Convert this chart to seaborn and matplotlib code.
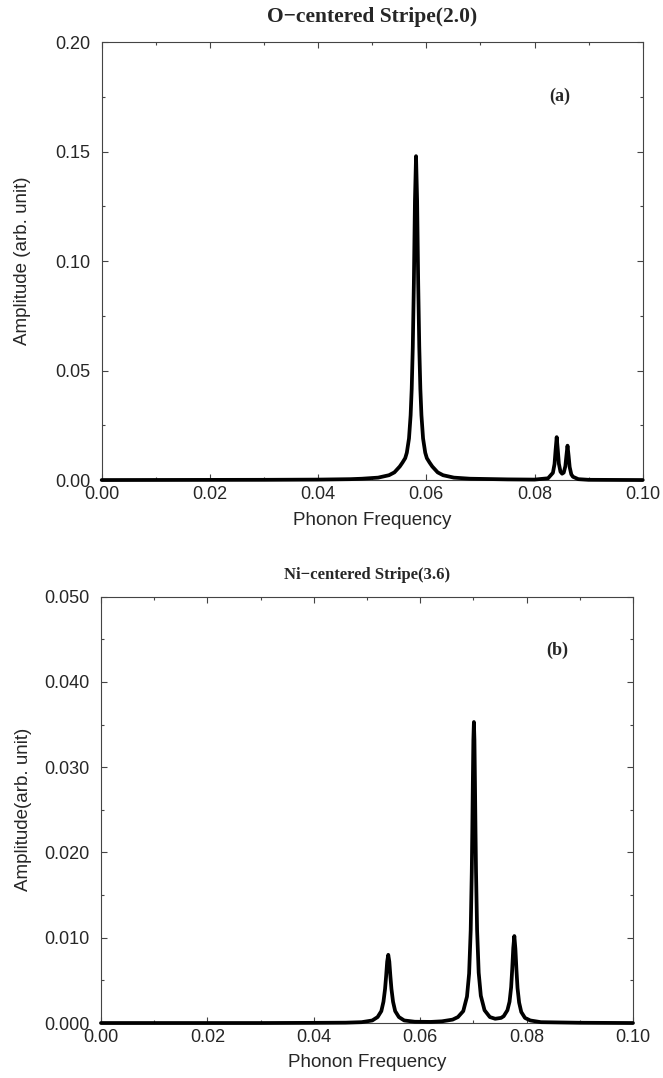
import numpy as np
import pandas as pd
import matplotlib
matplotlib.use("Agg")
import matplotlib.pyplot as plt
from matplotlib.ticker import MultipleLocator, FormatStrFormatter
import seaborn as sns

# Panel (a): O-centered stripe
freq_a = [0.0000, 0.0300, 0.0400, 0.0460, 0.0481, 0.0511, 0.0531, 0.0541, 0.0551,
          0.0556, 0.0561, 0.0564, 0.0568, 0.0571, 0.0573, 0.0575, 0.0577, 0.0579,
          0.0581, 0.0583, 0.0585, 0.0587, 0.0589, 0.0591, 0.0594, 0.0598, 0.0601,
          0.0606, 0.0611, 0.0621, 0.0631, 0.0651, 0.0681, 0.0750, 0.0800, 0.0825,
          0.0834, 0.0837, 0.0839, 0.0841, 0.0843, 0.0845, 0.0848, 0.0851, 0.0854,
          0.0857, 0.0859, 0.0861, 0.0863, 0.0865, 0.0868, 0.0871, 0.0881, 0.0900,
          0.1000]
amp_a = [0.0000, 0.0001, 0.0002, 0.0004, 0.0006, 0.0011, 0.0022, 0.0035, 0.0062,
         0.0080, 0.0100, 0.0125, 0.0190, 0.0296, 0.0416, 0.0607, 0.0900, 0.1276,
         0.1480, 0.1276, 0.0900, 0.0607, 0.0416, 0.0296, 0.0190, 0.0125, 0.0100,
         0.0080, 0.0062, 0.0035, 0.0022, 0.0011, 0.0006, 0.0003, 0.0002, 0.0008,
         0.0033, 0.0073, 0.0138, 0.0196, 0.0139, 0.0075, 0.0038, 0.0029, 0.0034,
         0.0063, 0.0112, 0.0157, 0.0111, 0.0059, 0.0026, 0.0015, 0.0004, 0.0001,
         0.0000]

# Panel (b): Ni-centered stripe
freq_b = [0.0000, 0.0300, 0.0400, 0.0460, 0.0490, 0.0510, 0.0520, 0.0527, 0.0531,
          0.0534, 0.0536, 0.0538, 0.0540, 0.0542, 0.0544, 0.0546, 0.0549, 0.0553,
          0.0560, 0.0570, 0.0590, 0.0620, 0.0641, 0.0661, 0.0671, 0.0681, 0.0688,
          0.0692, 0.0695, 0.0697, 0.0698, 0.0699, 0.0700, 0.0701, 0.0702, 0.0703,
          0.0704, 0.0705, 0.0707, 0.0710, 0.0714, 0.0721, 0.0731, 0.0741, 0.0752,
          0.0757, 0.0764, 0.0768, 0.0771, 0.0773, 0.0775, 0.0777, 0.0779, 0.0781,
          0.0783, 0.0786, 0.0790, 0.0797, 0.0807, 0.0827, 0.0900, 0.1000]
amp_b = [0.0000, 0.0000, 0.00002, 0.00004, 0.0001, 0.0003, 0.0007, 0.0014, 0.0025,
         0.0040, 0.0055, 0.0072, 0.0080, 0.0072, 0.0055, 0.0040, 0.0025, 0.0014,
         0.0007, 0.0003, 0.00015, 0.00013, 0.0002, 0.0004, 0.0007, 0.0014, 0.0031,
         0.0058, 0.0109, 0.0177, 0.0226, 0.0282, 0.0332, 0.0353, 0.0332, 0.0282,
         0.0226, 0.0177, 0.0109, 0.0059, 0.0032, 0.0015, 0.0007, 0.0005, 0.0006,
         0.0008, 0.0015, 0.0025, 0.0042, 0.0063, 0.0088, 0.0102, 0.0087, 0.0062,
         0.0041, 0.0024, 0.0013, 0.0006, 0.0003, 0.0001, 0.00003, 0.0000]

titles = ["O\u2212centered Stripe(2.0)", "Ni\u2212centered Stripe(3.6)"]
ylabels = ["Amplitude (arb. unit)", "Amplitude(arb. unit)"]
tags = ["(a)", "(b)"]

sns.set_style("ticks")
plt.rcParams['font.family'] = ['Liberation Sans', 'DejaVu Sans']

fig = plt.figure(figsize=(6.63, 10.78), dpi=100)
ax_a = fig.add_axes([0.1534, 0.5547, 0.816, 0.406])
ax_b = fig.add_axes([0.1523, 0.0510, 0.8024, 0.3955])

panels = [
    (ax_a, freq_a, amp_a, 0.20, 0.05, "%.2f", 15.5, 15, (0.0847, 0.1752)),
    (ax_b, freq_b, amp_b, 0.050, 0.01, "%.3f", 12, 12.7, (0.0857, 0.04375)),
]

for i, (ax, fx, fy, ymax, ystep, fmt, tsize, tpad, tagpos) in enumerate(panels):
    df = pd.DataFrame({"freq": fx, "amp": fy})
    sns.lineplot(data=df, x="freq", y="amp", ax=ax, color="black", lw=2.7,
                 estimator=None, sort=True, clip_on=False, zorder=5)
    ax.set_xlim(0, 0.1)
    ax.set_ylim(0, ymax)
    ax.xaxis.set_major_locator(MultipleLocator(0.02))
    ax.xaxis.set_minor_locator(MultipleLocator(0.01))
    ax.yaxis.set_major_locator(MultipleLocator(ystep))
    ax.yaxis.set_minor_locator(MultipleLocator(ystep / 2))
    ax.xaxis.set_major_formatter(FormatStrFormatter("%.2f"))
    ax.yaxis.set_major_formatter(FormatStrFormatter(fmt))
    ax.tick_params(which="both", direction="in", top=True, right=True,
                   color="#444444", width=0.8)
    ax.tick_params(which="major", length=4, labelsize=13)
    ax.tick_params(which="minor", length=2.5)
    ax.tick_params(axis="x", pad=4.5)
    ax.tick_params(axis="y", pad=8)
    for s in ax.spines.values():
        s.set_linewidth(0.8)
        s.set_color("#444444")
    ax.set_xlabel("Phonon Frequency", fontsize=13.5)
    ax.set_ylabel(ylabels[i], fontsize=13.5)
    ax.xaxis.set_label_coords(0.5, -0.073)
    ax.yaxis.set_label_coords(-0.13, 0.5)
    ax.set_title(titles[i], family="Liberation Serif", fontweight="bold",
                 fontsize=tsize, pad=tpad)
    ax.text(tagpos[0], tagpos[1], tags[i], family="Liberation Serif",
            fontweight="bold", fontsize=13, ha="center", va="center")

fig.savefig("out.png", dpi=100)
